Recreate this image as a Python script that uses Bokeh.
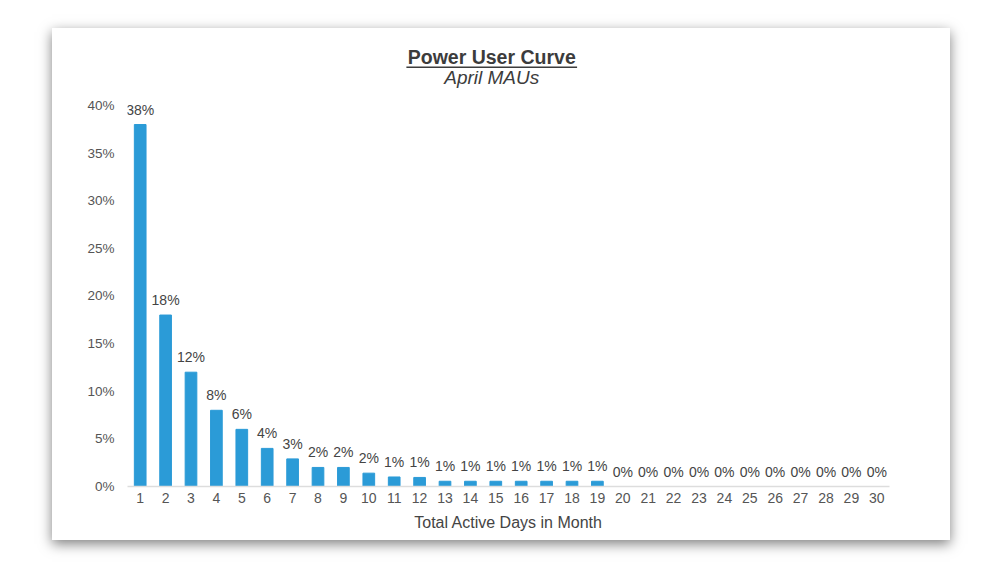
from bokeh.plotting import figure
from bokeh.models import ColumnDataSource, FixedTicker, Range1d, Label, LabelSet, BoxAnnotation
from bokeh.core.properties import value
from bokeh.embed import file_html
from bokeh.resources import INLINE

# ---- data ----
days = list(range(1, 31))
shares = [38.0, 18.0, 12.0, 8.0, 6.0, 4.0, 2.9, 2.0, 2.0, 1.4, 1.0, 0.95,
          0.55, 0.55, 0.55, 0.55, 0.55, 0.55, 0.55,
          0, 0, 0, 0, 0, 0, 0, 0, 0, 0, 0]
share_labels = ["38%", "18%", "12%", "8%", "6%", "4%", "3%", "2%", "2%", "2%", "1%", "1%",
                "1%", "1%", "1%", "1%", "1%", "1%", "1%",
                "0%", "0%", "0%", "0%", "0%", "0%", "0%", "0%", "0%", "0%", "0%"]
y_ticks = [0, 5, 10, 15, 20, 25, 30, 35, 40]
y_tick_labels = ["0%", "5%", "10%", "15%", "20%", "25%", "30%", "35%", "40%"]
title_text = "Power User Curve"
subtitle_text = "April MAUs"
x_label = "Total Active Days in Month"

FONT = "Liberation Sans"
BLUE = "#2b9bd7"

src = ColumnDataSource(dict(day=days, share=shares, label=share_labels))

p = figure(width=898, height=512, output_backend="svg", toolbar_location=None,
           x_range=Range1d(0.5, 30.5), y_range=Range1d(0, 46.82),
           min_border_left=75, min_border_right=61, min_border_top=12, min_border_bottom=54)
p.margin = (28, 50, 28, 52)
p.styles = {"box-shadow": "0px 4px 12px rgba(0,0,0,0.5)"}
p.background_fill_color = "white"
p.border_fill_color = "white"
p.outline_line_color = None
p.xgrid.grid_line_color = None
p.ygrid.grid_line_color = None

p.vbar(x="day", top="share", width=0.46, source=src, color=BLUE)

p.add_layout(LabelSet(x="day", y="share", text="label", source=src,
                      text_align="center", text_baseline="alphabetic", y_offset=10,
                      text_font=value(FONT), text_font_size=value("14px"), text_color=value("#444444")))

# x axis
xa = p.xaxis[0]
xa.ticker = FixedTicker(ticks=days)
xa.axis_line_color = "#dddddd"
xa.axis_line_width = 1.5
xa.major_tick_line_color = None
xa.minor_tick_line_color = None
xa.major_label_standoff = 0
xa.major_label_text_font = FONT
xa.major_label_text_font_size = "14px"
xa.major_label_text_color = "#555555"
xa.axis_label = x_label
xa.axis_label_text_font = FONT
xa.axis_label_text_font_size = "16px"
xa.axis_label_text_font_style = "normal"
xa.axis_label_text_color = "#444444"
xa.axis_label_standoff = 8

# y axis
ya = p.yaxis[0]
ya.ticker = FixedTicker(ticks=y_ticks)
ya.major_label_overrides = {t: l for t, l in zip(y_ticks, y_tick_labels)}
ya.axis_line_color = None
ya.major_tick_line_color = None
ya.minor_tick_line_color = None
ya.major_label_standoff = 7
ya.major_label_text_font = FONT
ya.major_label_text_font_size = "13.5px"
ya.major_label_text_color = "#555555"

# title block
p.add_layout(Label(x=14.84, y=45.09, text=title_text, text_align="center",
                   text_baseline="alphabetic", text_font=FONT, text_font_size="19.5px",
                   text_font_style="bold", text_color="#3c3c3c"))
p.add_layout(BoxAnnotation(left=11.48, right=18.2, bottom=43.92, top=44.10,
                           fill_color="#3c3c3c", fill_alpha=1.0, line_color=None))
p.add_layout(Label(x=14.84, y=42.94, text=subtitle_text, text_align="center",
                   text_baseline="alphabetic", text_font=FONT, text_font_size="19px",
                   text_font_style="italic", text_color="#3c3c3c"))

open("out.html", "w").write(file_html(p, INLINE))
